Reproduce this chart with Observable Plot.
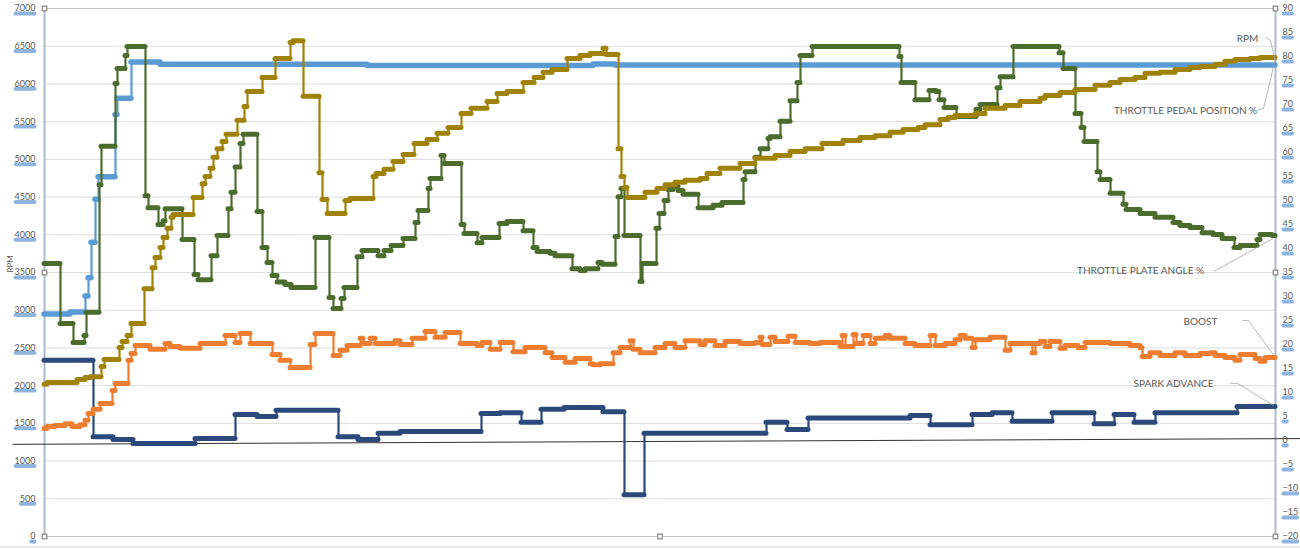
<!DOCTYPE html>
<html><head><meta charset="utf-8">
<script src="https://cdn.jsdelivr.net/npm/d3@7"></script>
<script src="https://cdn.jsdelivr.net/npm/@observablehq/plot@0.6"></script>
<style>body{margin:0;background:#fff} svg{display:block}</style>
</head><body><div id="chart"></div>
<script>
// ---------- data (sample position, value) ----------
const rpmTicks = [0,500,1000,1500,2000,2500,3000,3500,4000,4500,5000,5500,6000,6500,7000];
const rightTicks = [-20,-15,-10,-5,0,5,10,15,20,25,30,35,40,45,50,55,60,65,70,75,80,85,90];

const rpm = [[44,2950],[70,2975],[85,3190],[88,3430],[91,3900],[95,4470],[98,4770],[115,5590],[117,5810],[131,6290],[160,6260],[367,6245],[593,6265],[615,6250],[1275,6250]];

const plateAngle = [[44,36.9],[60,24.4],[73,20.4],[84,21.9],[86,26.7],[99,53.3],[101,61.3],[115,74.4],[117,77.5],[125,80.2],[127,82.1],[145,51],[148,48.5],[158,45],[163,45.8],[165,48.3],[182,41.9],[194,34.6],[198,33.5],[211,38.5],[217,42.7],[228,48.3],[231,51.7],[235,57],[240,61.9],[243,63.8],[257,47.7],[262,40.2],[267,37.1],[272,34.4],[277,33],[285,32.5],[291,31.9],[315,42.3],[329,29.8],[333,27.5],[341,29.6],[344,31.9],[357,38.3],[362,39.6],[378,38.5],[384,39.6],[391,40.6],[403,42.1],[415,45.4],[418,47.9],[428,52.5],[430,54.6],[441,59.4],[444,57.7],[461,45],[464,43.1],[477,41.2],[482,42.3],[499,45.2],[507,45.6],[523,43.7],[533,40.2],[537,39.4],[550,39],[555,38.5],[572,35.8],[580,35.4],[585,35.8],[598,37.1],[602,36.7],[615,42.5],[618,50.8],[621,52.5],[624,42.7],[640,33.1],[642,36.9],[656,44.2],[659,47.3],[664,50],[668,52.3],[673,52.9],[678,52.1],[683,51.3],[698,48.5],[713,49],[722,49.6],[743,54.4],[745,56],[755,59],[760,60.8],[768,62.9],[770,63.3],[780,66.5],[790,70.8],[797,74.6],[800,80.2],[812,82.1],[899,80],[901,74.6],[915,71],[929,72.9],[936,72.7],[939,71],[944,69.4],[956,67.5],[976,69],[980,70],[997,73.5],[1000,75.8],[1013,82.1],[1059,80.8],[1063,77.5],[1075,68.1],[1081,65.2],[1084,62.3],[1097,56],[1100,54.4],[1110,51.5],[1123,49.2],[1126,48.1],[1140,47.3],[1155,46.5],[1173,45.4],[1180,44.8],[1190,44.4],[1202,43.3],[1213,42.9],[1222,42.1],[1234,40.2],[1240,40.6],[1257,41.9],[1260,42.9],[1272,42.7],[1275,42.5]];

const pedalPosition = [[44,11.7],[47,12.1],[77,12.7],[85,13.1],[90,13.3],[101,15.4],[104,16.9],[119,19.4],[122,20.6],[127,21.9],[131,24.4],[144,31.6],[152,36],[155,38.1],[160,40.2],[163,42.3],[167,44.2],[171,46.5],[173,47.1],[193,50.6],[202,53.5],[205,55],[210,56.7],[213,59],[217,60.8],[222,62.3],[226,63.8],[237,66.7],[244,69.6],[247,72.7],[262,75.6],[275,79.6],[290,82.9],[293,83.3],[303,71.7],[319,55.8],[322,50.2],[327,47.3],[345,50],[350,50.4],[373,55],[376,55.6],[384,56.5],[393,58.1],[403,59.6],[414,61.9],[427,62.7],[437,64],[448,65.2],[461,68.1],[471,69.2],[487,70.6],[497,72.3],[507,72.7],[523,74.6],[534,75.6],[543,76.7],[552,77.3],[567,79.6],[580,80.2],[590,80.6],[603,81.7],[606,80.4],[618,60.8],[621,55],[624,52.7],[627,50.6],[645,51.7],[657,52.5],[665,53.3],[675,53.8],[685,54.2],[700,54.6],[707,55.6],[720,56.7],[740,57.7],[755,58.8],[775,59.4],[790,60.2],[805,60.8],[822,61.9],[843,62.5],[860,63.1],[875,63.5],[890,64.2],[903,64.8],[918,65.2],[925,65.8],[940,66.9],[948,67.3],[955,67.7],[975,68.1],[985,69.2],[1005,69.8],[1020,70.6],[1040,71.3],[1045,71.9],[1060,72.5],[1075,73.1],[1095,74],[1110,74.6],[1120,75.2],[1135,75.6],[1145,76.5],[1160,76.7],[1175,77.3],[1190,77.7],[1200,77.9],[1215,78.4],[1225,79],[1235,79.4],[1250,79.6],[1260,79.8],[1275,80]];

const boost = [[44,2.5],[47,2.9],[55,3.1],[65,3.5],[72,2.9],[80,3.3],[85,4.2],[88,5.6],[93,6.5],[100,7.7],[112,10.4],[115,11.9],[128,16.7],[131,18.1],[135,19.8],[150,19],[165,20.2],[170,19.6],[180,19.2],[200,20.2],[225,21.9],[235,20.4],[240,22.3],[250,20.2],[272,17.9],[280,16.7],[290,15.2],[310,20],[315,22.3],[333,17.7],[340,18.8],[347,19.8],[360,21.3],[363,20.2],[370,21.3],[375,20.2],[395,20.8],[400,20],[412,21.3],[425,22.7],[435,21.5],[445,22.5],[460,20.2],[477,19.8],[482,20.4],[490,19],[500,20.4],[513,18.5],[525,19.4],[545,18.3],[552,17.3],[565,16.3],[575,17.1],[590,16],[593,15.8],[600,16],[613,18.3],[620,19.4],[630,20.8],[633,19],[640,18.3],[655,19.4],[665,20.2],[675,19.4],[685,20.8],[700,20],[705,20.8],[715,19.8],[725,20.6],[740,20.2],[755,20.4],[760,21.5],[762,20],[770,21.5],[775,20.6],[788,21.7],[795,20.4],[810,20.2],[820,20.4],[840,19.6],[842,21.9],[845,19.6],[853,22.1],[856,20.2],[863,21.9],[870,20.2],[875,21.3],[885,21.9],[890,21.3],[905,20.2],[915,19.8],[930,21.9],[935,19.8],[945,20.2],[955,21],[960,21.9],[965,21.3],[972,19.4],[975,21],[990,21.5],[1005,18.8],[1010,20.2],[1032,18.3],[1035,20.2],[1040,20.6],[1045,19.6],[1050,20.6],[1060,19.2],[1065,19.8],[1078,19.4],[1085,20.4],[1110,20.2],[1130,19.8],[1140,19.4],[1142,17.5],[1150,18.3],[1160,17.7],[1175,18.3],[1185,17.7],[1200,18.1],[1210,18.3],[1215,17.7],[1225,17.3],[1235,16.7],[1240,17.9],[1255,17.1],[1260,16.5],[1265,17.3],[1275,17.5]];

const sparkAdvance = [[44,16.7],[93,0.8],[113,0.2],[133,-0.6],[195,0.4],[235,5.4],[257,5],[276,6.3],[338,0.8],[358,0.2],[378,1.5],[400,1.9],[481,5.6],[500,5.8],[521,3.8],[541,6.5],[564,6.9],[603,6],[624,-11.3],[644,1.5],[766,3.8],[787,2.3],[808,4.7],[910,5.2],[930,3.3],[972,5.4],[992,5.8],[1012,4],[1052,5.8],[1094,3.5],[1114,5.4],[1134,3.8],[1155,5.8],[1237,7.1],[1275,7.1]];

const labels = ["RPM","THROTTLE PEDAL POSITION %","THROTTLE PLATE ANGLE %","BOOST","SPARK ADVANCE"];
const colors = ["#5b9bd5","#a08208","#4b6c2d","#ed7d31","#2b497b"];

// ---------- helpers ----------
const toR = v => v / 7000 * 110 - 20;          // RPM -> right axis units
const fromR = v => String(Math.round((v + 20) / 110 * 7000));

const seriesList = [
  {data: rpm.map(([t, v]) => [t, toR(v)]), color: colors[0], thick: 5.5},
  {data: sparkAdvance, color: colors[4], thick: 5},
  {data: boost, color: colors[3], thick: 5},
  {data: plateAngle, color: colors[2], thick: 5},
  {data: pedalPosition, color: colors[1], thick: 5}
];
const runs = s => s.data.slice(0, -1).map((d, i) => ({x1: d[0], x2: s.data[i + 1][0], y: d[1]}));

const seriesMarks = seriesList.flatMap(s => [
  Plot.line(s.data, {x: d => d[0], y: d => d[1], curve: "step-after", stroke: s.color, strokeWidth: 2.2}),
  Plot.ruleY(runs(s), {x1: "x1", x2: "x2", y: "y", stroke: s.color, strokeWidth: s.thick, strokeLinecap: "round"})
]);

// annotation label positions and leader lines
const annot = [
  {text: labels[0], x: 1247, y: 83.7},
  {text: labels[1], x: 1185, y: 68.7},
  {text: labels[2], x: 1140, y: 35.4},
  {text: labels[3], x: 1200, y: 24.8},
  {text: labels[4], x: 1173, y: 11.9}
];
const leaders = [
  [[1265,84],[1270,83.3],[1275,78.8]],
  [[1257,68.8],[1263,69.2],[1275,79.6]],
  [[1214,35.3],[1272,42]],
  [[1242,25],[1248,25],[1273,17.8]],
  [[1230,11.9],[1237,11.9],[1273,7.3]]
].flatMap((pts, k) => pts.map(p => ({k, x: p[0], y: p[1]})));

const chart = Plot.plot({
  width: 1300, height: 550,
  marginLeft: 44, marginRight: 25, marginTop: 8, marginBottom: 14,
  style: {fontFamily: "Lato, 'Open Sans', sans-serif", color: "#595959", background: "#fff"},
  x: {domain: [44, 1275], axis: null},
  y: {domain: [-20, 90], label: null, axis: null},
  marks: [
    Plot.ruleY(rpmTicks.slice(1, -1).map(toR), {stroke: "#dcdcdc", strokeWidth: 1}),
    Plot.ruleY([90], {stroke: "#c4c4c4", strokeWidth: 1.2}),
    Plot.ruleY([-20], {stroke: "#c4c4c4", strokeWidth: 1.2}),
    Plot.ruleX([44], {stroke: "#a9bbcf", strokeWidth: 2}),
    Plot.ruleX([1275], {stroke: "#a9bbcf", strokeWidth: 2}),
    Plot.axisY(rpmTicks.map(toR), {anchor: "left", tickSize: 0, tickPadding: 9, tickFormat: fromR, fontSize: 9, label: null}),
    Plot.axisY(rightTicks, {anchor: "right", tickSize: 0, tickPadding: 7, fontSize: 9, label: null}),
    Plot.text(["RPM"], {frameAnchor: "left", dx: -34, rotate: -90, fontSize: 8, fill: "#595959"}),
    Plot.link([{a: 12, b: -0.8, c: 1300, d: 0.4}], {x1: "a", y1: "b", x2: "c", y2: "d", stroke: "#333", strokeWidth: 1}),
    ...seriesMarks,
    Plot.line(leaders, {x: "x", y: "y", z: "k", stroke: "#a6a6a6", strokeWidth: 0.8}),
    Plot.text(annot, {x: "x", y: "y", text: "text", fontSize: 10, fill: "#595959"}),
    Plot.dot([0], {frameAnchor: "top-left", symbol: "square", r: 2.5, fill: "white", stroke: "#999"}),
    Plot.dot([0], {frameAnchor: "left", symbol: "square", r: 2.5, fill: "white", stroke: "#999"}),
    Plot.dot([0], {frameAnchor: "bottom-left", symbol: "square", r: 2.5, fill: "white", stroke: "#999"}),
    Plot.dot([0], {frameAnchor: "bottom", symbol: "square", r: 2.5, fill: "white", stroke: "#999"}),
    Plot.dot([0], {frameAnchor: "top-right", symbol: "square", r: 2.5, fill: "white", stroke: "#999"}),
    Plot.dot([0], {frameAnchor: "right", symbol: "square", r: 2.5, fill: "white", stroke: "#999"}),
    Plot.dot([0], {frameAnchor: "bottom-right", symbol: "square", r: 2.5, fill: "white", stroke: "#999"})
  ]
});
document.getElementById("chart").appendChild(chart);

// Excel-like selection highlight bars under the axis tick labels, plus bottom sheet line
const svg = d3.select(chart);
const box = chart.getBoundingClientRect();
const bars = svg.insert("g", ":first-child");
svg.selectAll('g[aria-label="y-axis tick label"] text').each(function () {
  const r = this.getBoundingClientRect();
  bars.append("rect")
    .attr("x", r.left - box.left - 1).attr("y", r.bottom - box.top - 2)
    .attr("width", r.width + 2).attr("height", 4).attr("rx", 2)
    .attr("fill", "#8fb4df");
});
svg.append("line").attr("x1", 0).attr("x2", 1300).attr("y1", 547).attr("y2", 547)
  .attr("stroke", "#d0d0d0");
</script>
</body></html>
